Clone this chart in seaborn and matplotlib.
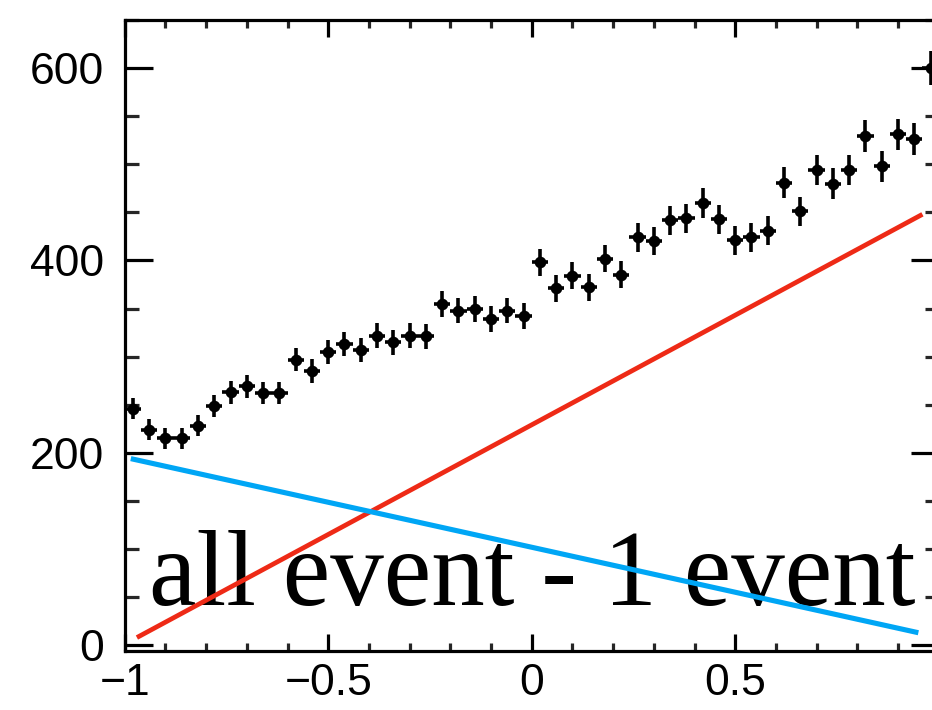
import numpy as np
import pandas as pd
import matplotlib
matplotlib.use("Agg")
import matplotlib.pyplot as plt
from matplotlib.ticker import MultipleLocator, FixedLocator, FixedFormatter
import seaborn as sns

# Histogram bin centres (50 bins of width 0.04 on [-1, 1])
bin_centers = [-0.98, -0.94, -0.90, -0.86, -0.82, -0.78, -0.74, -0.70, -0.66, -0.62,
               -0.58, -0.54, -0.50, -0.46, -0.42, -0.38, -0.34, -0.30, -0.26, -0.22,
               -0.18, -0.14, -0.10, -0.06, -0.02, 0.02, 0.06, 0.10, 0.14, 0.18,
               0.22, 0.26, 0.30, 0.34, 0.38, 0.42, 0.46, 0.50, 0.54, 0.58,
               0.62, 0.66, 0.70, 0.74, 0.78, 0.82, 0.86, 0.90, 0.94, 0.98]
bin_half_width = 0.02

# Event counts per bin
counts = [246, 224, 215, 215, 228, 249, 263, 269, 262, 262,
          297, 285, 305, 313, 307, 322, 315, 322, 321, 355,
          348, 350, 339, 348, 342, 398, 371, 384, 372, 402,
          385, 424, 420, 442, 444, 460, 443, 421, 424, 431,
          481, 451, 494, 480, 494, 529, 498, 531, 526, 600]

# Statistical uncertainty per bin
count_errors = [11.3, 10.8, 10.6, 10.6, 10.9, 11.4, 11.7, 11.8, 11.7, 11.7,
                12.4, 12.2, 12.6, 12.7, 12.6, 12.9, 12.8, 12.9, 12.9, 13.6,
                13.4, 13.5, 13.3, 13.4, 13.3, 14.4, 13.9, 14.1, 13.9, 14.4,
                14.1, 14.8, 14.8, 15.1, 15.2, 15.4, 15.2, 14.8, 14.8, 14.9,
                15.8, 15.3, 16.0, 15.8, 16.0, 16.6, 16.1, 16.6, 16.5, 17.6]

# Linear components (end points)
rising_x = [-0.97, 0.96]
rising_y = [8, 448]
falling_x = [-0.985, 0.95]
falling_y = [194, 13]

# Axis ticks
xtick_vals = [-1, -0.5, 0, 0.5]
xtick_labels = ["\u22121", "\u22120.5", "0", "0.5"]
ytick_vals = [0, 200, 400, 600]
ytick_labels = ["0", "200", "400", "600"]

label_text = "all event - 1 event"

sns.set_theme(style="ticks")
plt.rcParams["font.family"] = ["Liberation Sans", "DejaVu Sans"]

fig = plt.figure(figsize=(9.32, 7.10), dpi=100)
ax = fig.add_axes([0.1338, 0.0831, 0.8734, 0.8887])

hist_df = pd.DataFrame({"x": bin_centers, "y": counts, "err": count_errors})
rise_df = pd.DataFrame({"x": rising_x, "y": rising_y})
fall_df = pd.DataFrame({"x": falling_x, "y": falling_y})

# Data points with error bars
ax.errorbar(hist_df["x"], hist_df["y"], yerr=hist_df["err"], xerr=bin_half_width,
            fmt="none", ecolor="black", elinewidth=2.6, capsize=0, zorder=4)
sns.scatterplot(data=hist_df, x="x", y="y", ax=ax, color="black", s=70,
                edgecolor="black", linewidth=0, zorder=5, legend=False)

# Component lines
sns.lineplot(data=rise_df, x="x", y="y", ax=ax, color="#ee2a16", linewidth=3.4,
             zorder=3, solid_capstyle="butt")
sns.lineplot(data=fall_df, x="x", y="y", ax=ax, color="#00a6f5", linewidth=3.7,
             zorder=3, solid_capstyle="butt")

ax.text(-0.94, 41.6, label_text, family=["Liberation Serif", "DejaVu Serif"],
        fontsize=77, ha="left", va="baseline", color="black", zorder=2)

ax.set_xlim(-1, 1)
ax.set_ylim(-6, 650)
ax.set_xlabel("")
ax.set_ylabel("")

ax.xaxis.set_major_locator(FixedLocator(xtick_vals))
ax.xaxis.set_major_formatter(FixedFormatter(xtick_labels))
ax.xaxis.set_minor_locator(MultipleLocator(0.1))
ax.yaxis.set_major_locator(FixedLocator(ytick_vals))
ax.yaxis.set_major_formatter(FixedFormatter(ytick_labels))
ax.yaxis.set_minor_locator(MultipleLocator(50))

for side in ["left", "right", "top", "bottom"]:
    ax.spines[side].set_visible(True)
    ax.spines[side].set_linewidth(2.3)
    ax.spines[side].set_color("black")

ax.tick_params(axis="x", which="major", direction="in", length=12, width=2.3,
               top=True, bottom=True, labelsize=32, pad=9, colors="black")
ax.tick_params(axis="x", which="minor", direction="in", length=6, width=2.3,
               top=True, bottom=True)
ax.tick_params(axis="y", which="major", direction="in", length=20, width=2.3,
               left=True, right=True, labelsize=32, pad=15, colors="black")
ax.tick_params(axis="y", which="minor", direction="in", length=10, width=2.3,
               left=True, right=True)

ax.set_facecolor("white")
fig.patch.set_facecolor("white")

fig.savefig("out.png", dpi=100, facecolor="white")
